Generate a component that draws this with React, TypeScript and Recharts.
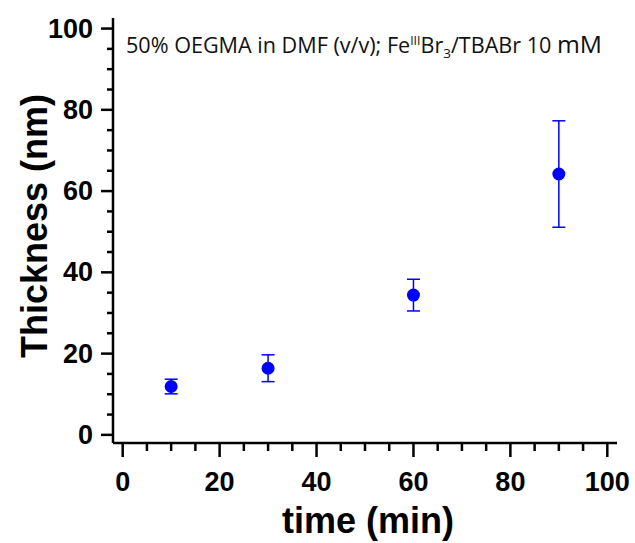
import React from 'react'
import {
  ScatterChart, Scatter, XAxis, YAxis, ErrorBar, Customized,
} from 'recharts'

// time (min), thickness (nm), std dev
const times = [10, 30, 60, 90]
const thickness = [11.9, 16.4, 34.4, 64.2]
const errors = [1.8, 3.3, 3.9, 13.1]

const xTicks = [0, 5, 10, 15, 20, 25, 30, 35, 40, 45, 50, 55, 60, 65, 70, 75, 80, 85, 90, 95, 100]
const yTicks = [0, 5, 10, 15, 20, 25, 30, 35, 40, 45, 50, 55, 60, 65, 70, 75, 80, 85, 90, 95, 100]

const points = times.map((t, i) => ({ time: t, thick: thickness[i], err: errors[i] }))

const FONT = '"Liberation Sans", Arial, sans-serif'
const AXIS_W = 2.5

function XTick(props: any) {
  const { x, y, payload } = props
  const major = payload.value % 20 === 0
  return (
    <g>
      <line x1={x} x2={x} y1={y} y2={y + (major ? 14 : 8)} stroke="#000" strokeWidth={AXIS_W} />
      {major && (
        <text x={x} y={y + 48} textAnchor="middle" fontFamily={FONT} fontWeight="bold" fontSize={27} fill="#000">
          {payload.value}
        </text>
      )}
    </g>
  )
}

function YTick(props: any) {
  const { x, y, payload } = props
  const major = payload.value % 20 === 0
  return (
    <g>
      <line x1={x} x2={x - (major ? 12 : 6)} y1={y} y2={y} stroke="#000" strokeWidth={AXIS_W} />
      {major && (
        <text x={x - 20} y={y + 9} textAnchor="end" fontFamily={FONT} fontWeight="bold" fontSize={27} fill="#000">
          {payload.value}
        </text>
      )}
    </g>
  )
}

function Annotations() {
  return (
    <g>
      <text x={126} y={53} fontFamily='"Open Sans", sans-serif' fontSize={21} fill="#111" textLength={476} lengthAdjust="spacingAndGlyphs">
        50% OEGMA in DMF (v/v); Fe
        <tspan fontSize={12} dy={-8}>III</tspan>
        <tspan dy={8}>Br</tspan>
        <tspan fontSize={13} dy={5}>3</tspan>
        <tspan dy={-5}>/TBABr 10 </tspan>
        <tspan fontSize={24}>mM</tspan>
      </text>
      <text x={368} y={533} textAnchor="middle" fontFamily={FONT} fontWeight="bold" fontSize={36} fill="#000">
        time (min)
      </text>
      <text
        x={0}
        y={0}
        transform="translate(47, 226) rotate(-90)"
        textAnchor="middle"
        fontFamily={FONT}
        fontWeight="bold"
        fontSize={36}
        fill="#000"
      >
        Thickness (nm)
      </text>
    </g>
  )
}

export default function App() {
  return (
    <div style={{ position: 'absolute', left: 0, top: 0, background: '#fff' }}>
      <ScatterChart width={635} height={543} margin={{ top: 18, right: 18, bottom: 0, left: 0 }}>
        <XAxis
          dataKey="time"
          type="number"
          domain={[-2, 102]}
          ticks={xTicks}
          interval={0}
          height={100}
          tickSize={0}
          tickMargin={0}
          tickLine={false}
          tick={<XTick />}
          axisLine={{ stroke: '#000', strokeWidth: AXIS_W }}
          allowDataOverflow
        />
        <XAxis
          xAxisId="top"
          orientation="top"
          type="number"
          domain={[-2, 102]}
          height={0}
          tick={false}
          tickLine={false}
          axisLine={{ stroke: '#000', strokeWidth: AXIS_W }}
        />
        <YAxis
          dataKey="thick"
          type="number"
          domain={[-2, 102.6]}
          ticks={yTicks}
          interval={0}
          width={113}
          tickSize={0}
          tickMargin={0}
          tickLine={false}
          tick={<YTick />}
          axisLine={{ stroke: '#000', strokeWidth: AXIS_W }}
          allowDataOverflow
        />
        <YAxis
          yAxisId="right"
          orientation="right"
          type="number"
          domain={[-2, 102.6]}
          width={0}
          tick={false}
          tickLine={false}
          axisLine={{ stroke: '#000', strokeWidth: AXIS_W }}
        />
        <Scatter
          data={points}
          fill="#0000ff"
          isAnimationActive={false}
          shape={(p: any) => <circle cx={p.cx} cy={p.cy} r={6.5} fill="#0000ff" />}
        >
          <ErrorBar dataKey="err" direction="y" width={6.5} stroke="#0000ff" strokeWidth={1.5} isAnimationActive={false} />
        </Scatter>
        <Customized component={Annotations} />
      </ScatterChart>
    </div>
  )
}
